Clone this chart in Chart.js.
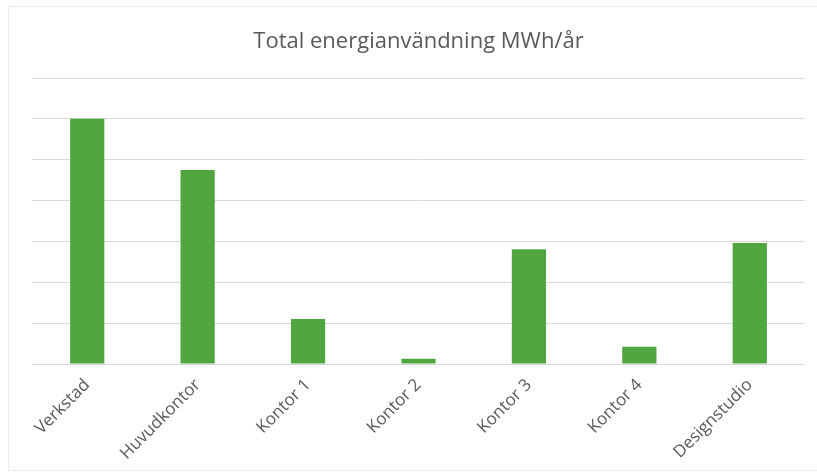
<!DOCTYPE html>
<html>
<head>
<meta charset="utf-8">
<script src="https://cdn.jsdelivr.net/npm/chart.js@4.4.1/dist/chart.umd.min.js"></script>
<style>
  body { margin: 0; background: #fff; }
  #wrap { position: relative; width: 817px; height: 473px; }
  #frame { position: absolute; left: 8px; top: 6px; width: 820px; height: 463px; border: 1px solid #ececec; }
  canvas { position: absolute; left: 0; top: 0; }
</style>
</head>
<body>
<div id="wrap">
  <div id="frame"></div>
  <canvas id="mycanvas" width="817" height="473"></canvas>
</div>
<script>
var labels = ['Verkstad', 'Huvudkontor', 'Kontor 1', 'Kontor 2', 'Kontor 3', 'Kontor 4', 'Designstudio'];
var values = [6, 4.75, 1.1, 0.13, 2.81, 0.42, 2.96];
var yMax = 7;
var yStep = 1;

var chartdata = {
	labels: labels,
	datasets: [
		{
			label: 'Total energianvändning MWh/år',
			backgroundColor: '#50a740',
			borderWidth: 0,
			barPercentage: 0.31,
			categoryPercentage: 1,
			data: values
		}
	]
};

var ctx = document.getElementById('mycanvas');

var barGraph = new Chart(ctx, {
	type: 'bar',
	data: chartdata,
	options: {
		responsive: false,
		animation: false,
		layout: { padding: { left: 32, right: 12, top: 29, bottom: 0 } },
		plugins: {
			legend: { display: false },
			tooltip: { enabled: false },
			title: {
				display: true,
				text: 'Total energianvändning MWh/år',
				color: '#595959',
				font: { family: 'Open Sans', size: 22, weight: 'normal' },
				padding: { top: 0, bottom: 22.6 }
			}
		},
		scales: {
			x: {
				grid: { display: false },
				border: { display: false },
				ticks: {
					color: '#595959',
					font: { family: 'Open Sans', size: 17 },
					minRotation: 45,
					maxRotation: 45,
					padding: 3
				},
				afterFit: function(scale) { scale.height = 109; }
			},
			y: {
				min: 0,
				max: yMax,
				border: { display: false },
				grid: { color: '#d9d9d9', lineWidth: 1, drawTicks: false },
				ticks: { display: false, stepSize: yStep },
				afterFit: function(scale) { scale.width = 0; }
			}
		}
	}
});
</script>
</body>
</html>
